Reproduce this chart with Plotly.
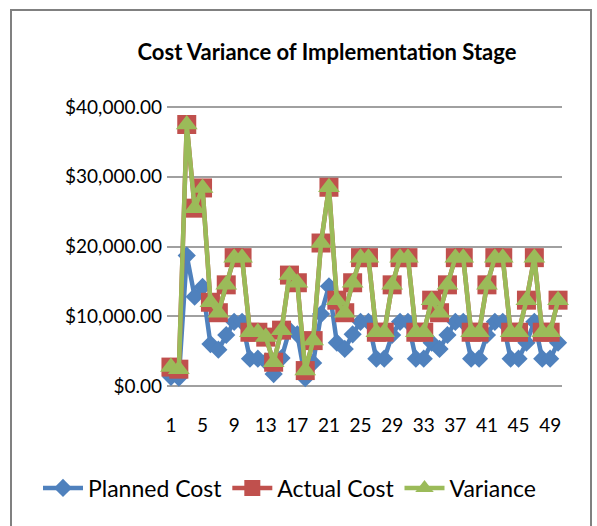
import plotly.graph_objects as go

stages = list(range(1, 51))

planned_cost = [1300, 1200, 18700, 12800, 14200, 6000, 5200, 7300, 9200, 9200,
                3900, 3900, 3500, 1700, 4000, 8000, 7400, 1100, 3300, 10300,
                14300, 6200, 5300, 7400, 9200, 9200, 3900, 3900, 7300, 9200,
                9200, 3900, 3900, 6200, 5300, 7300, 9200, 9200, 3900, 3900,
                7300, 9200, 9200, 3900, 3900, 6200, 9200, 3900, 3900, 6200]

actual_cost = [2700, 2400, 37500, 25500, 28400, 12000, 10500, 14500, 18400, 18400,
               7700, 7700, 7000, 3400, 8000, 15900, 14800, 2200, 6500, 20500,
               28500, 12300, 10500, 14800, 18400, 18400, 7700, 7700, 14500, 18400,
               18400, 7700, 7700, 12300, 10500, 14500, 18400, 18400, 7700, 7700,
               14500, 18400, 18400, 7700, 7700, 12300, 18400, 7700, 7700, 12300]

variance = [2700, 2400, 37500, 25500, 28400, 12000, 10500, 14500, 18400, 18400,
            7700, 7700, 7000, 3400, 8000, 15900, 14800, 2200, 6500, 20500,
            28500, 12300, 10500, 14800, 18400, 18400, 7700, 7700, 14500, 18400,
            18400, 7700, 7700, 12300, 10500, 14500, 18400, 18400, 7700, 7700,
            14500, 18400, 18400, 7700, 7700, 12300, 18400, 7700, 7700, 12300]

x_tick_vals = list(range(1, 51, 4))
y_tick_vals = [0, 10000, 20000, 30000, 40000]

FONT = "Lato, 'Open Sans', sans-serif"

W, H = 597, 526
# plot area (padded by ~2px so that the edge gridlines are drawn)
PL, PR, PT, PB = 167, 562, 105, 388
PW, PH = PR - PL, PB - PT

fig = go.Figure()
fig.add_trace(go.Scatter(x=stages, y=planned_cost, name="Planned Cost",
                         mode="lines+markers", cliponaxis=False,
                         line=dict(color="#4F81BD", width=4.5),
                         marker=dict(symbol="diamond", size=14, color="#4F81BD")))
fig.add_trace(go.Scatter(x=stages, y=actual_cost, name="Actual Cost",
                         mode="lines+markers", cliponaxis=False,
                         line=dict(color="#C0504D", width=4.5),
                         marker=dict(symbol="square", size=19, color="#C0504D")))
fig.add_trace(go.Scatter(x=stages, y=variance, name="Variance",
                         mode="lines+markers", cliponaxis=False,
                         line=dict(color="#9BBB59", width=4.5),
                         marker=dict(symbol="triangle-up", size=19, color="#9BBB59")))

fig.update_layout(
    width=W, height=H,
    margin=dict(l=PL, r=W - PR, t=PT, b=H - PB, autoexpand=False),
    paper_bgcolor="white", plot_bgcolor="white",
    font=dict(family=FONT, color="#000000"),
    title=dict(text="<b>Cost Variance of Implementation Stage</b>",
               x=327/W, xanchor="center", y=1-52/H, yanchor="middle",
               xref="container", yref="container",
               font=dict(size=22, family=FONT, color="#000000")),
    showlegend=True,
    legend=dict(orientation="h", xref="paper", x=(38-PL)/PW, xanchor="left",
                yref="paper", y=(PB-488)/PH, yanchor="middle",
                font=dict(size=23, family=FONT),
                itemwidth=40, tracegroupgap=0),
    xaxis=dict(range=[0.5, 50.5], tickvals=x_tick_vals,
               ticktext=[str(v) for v in x_tick_vals],
               showgrid=False, zeroline=False, showline=False,
               ticks="", ticklabelstandoff=24, automargin=False,
               tickfont=dict(size=19, family=FONT)),
    yaxis=dict(range=[-300, 40300], tickvals=y_tick_vals,
               tickformat="$,.2f",
               showgrid=True, gridcolor="#A0A0A0", gridwidth=1.5,
               zeroline=False, showline=False, ticks="",
               ticklabelstandoff=4, automargin=False,
               tickfont=dict(size=19, family=FONT)),
    shapes=[dict(type="rect", xref="paper", yref="paper",
                 x0=(11-PL)/PW, x1=(591-PL)/PW,
                 y0=(PB-530)/PH, y1=(PB-10)/PH,
                 line=dict(color="#808080", width=2), fillcolor="rgba(0,0,0,0)",
                 layer="below")],
)

fig.write_html("out.html", config={"displayModeBar": False},
               post_script="document.body.style.margin='0';document.body.style.overflow='hidden';")
